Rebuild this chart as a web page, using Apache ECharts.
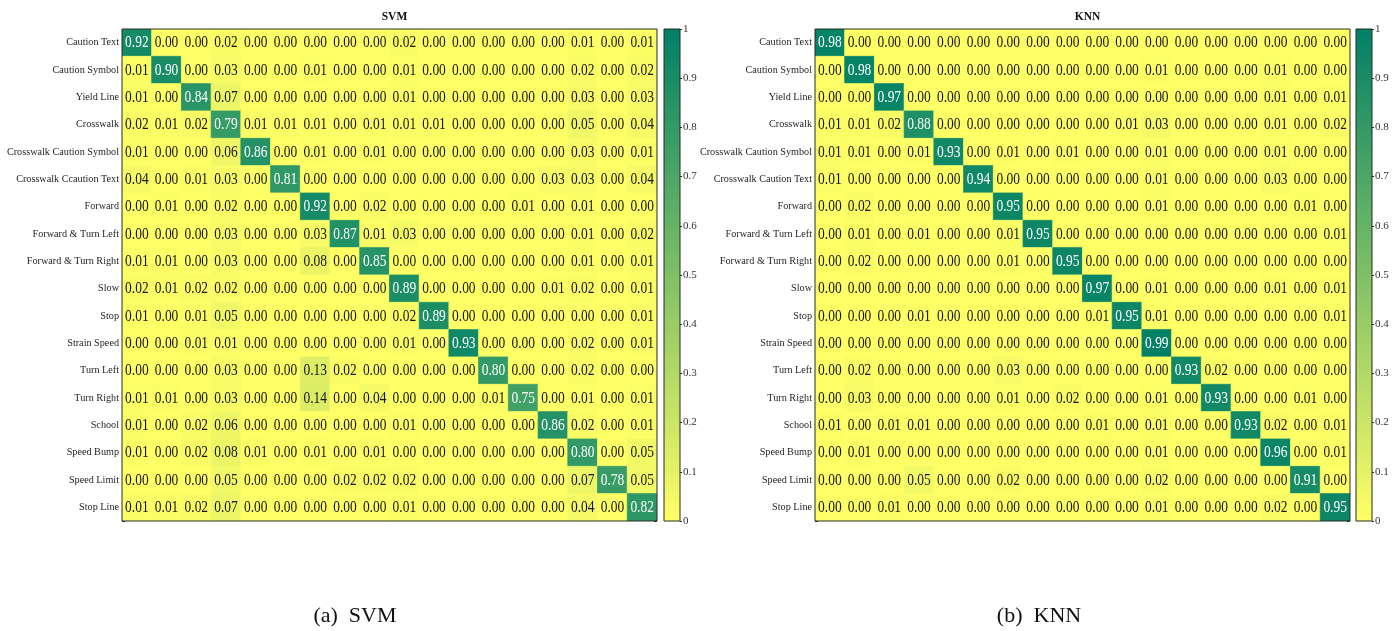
<!DOCTYPE html>
<html>
<head>
<meta charset="utf-8">
<script src="https://cdn.jsdelivr.net/npm/echarts@6/dist/echarts.min.js"></script>
<style>
  html, body { margin: 0; padding: 0; background: #fff; }
  #chart { width: 1399px; height: 631px; }
</style>
</head>
<body>
<div id="chart"></div>
<script>
// Class names (row order, top to bottom; columns follow the same order)
const svmClasses = [
  'Caution Text', 'Caution Symbol', 'Yield Line', 'Crosswalk',
  'Crosswalk Caution Symbol', 'Crosswalk Ccaution Text', 'Forward',
  'Forward & Turn Left', 'Forward & Turn Right', 'Slow', 'Stop',
  'Strain Speed', 'Turn Left', 'Turn Right', 'School', 'Speed Bump',
  'Speed Limit', 'Stop Line'
];
const knnClasses = [
  'Caution Text', 'Caution Symbol', 'Yield Line', 'Crosswalk',
  'Crosswalk Caution Symbol', 'Crosswalk Caution Text', 'Forward',
  'Forward & Turn Left', 'Forward & Turn Right', 'Slow', 'Stop',
  'Strain Speed', 'Turn Left', 'Turn Right', 'School', 'Speed Bump',
  'Speed Limit', 'Stop Line'
];

// Normalized confusion matrix, SVM classifier (rows = true class)
const svmMatrix = [
  [0.92,0.00,0.00,0.02,0.00,0.00,0.00,0.00,0.00,0.02,0.00,0.00,0.00,0.00,0.00,0.01,0.00,0.01],
  [0.01,0.90,0.00,0.03,0.00,0.00,0.01,0.00,0.00,0.01,0.00,0.00,0.00,0.00,0.00,0.02,0.00,0.02],
  [0.01,0.00,0.84,0.07,0.00,0.00,0.00,0.00,0.00,0.01,0.00,0.00,0.00,0.00,0.00,0.03,0.00,0.03],
  [0.02,0.01,0.02,0.79,0.01,0.01,0.01,0.00,0.01,0.01,0.01,0.00,0.00,0.00,0.00,0.05,0.00,0.04],
  [0.01,0.00,0.00,0.06,0.86,0.00,0.01,0.00,0.01,0.00,0.00,0.00,0.00,0.00,0.00,0.03,0.00,0.01],
  [0.04,0.00,0.01,0.03,0.00,0.81,0.00,0.00,0.00,0.00,0.00,0.00,0.00,0.00,0.03,0.03,0.00,0.04],
  [0.00,0.01,0.00,0.02,0.00,0.00,0.92,0.00,0.02,0.00,0.00,0.00,0.00,0.01,0.00,0.01,0.00,0.00],
  [0.00,0.00,0.00,0.03,0.00,0.00,0.03,0.87,0.01,0.03,0.00,0.00,0.00,0.00,0.00,0.01,0.00,0.02],
  [0.01,0.01,0.00,0.03,0.00,0.00,0.08,0.00,0.85,0.00,0.00,0.00,0.00,0.00,0.00,0.01,0.00,0.01],
  [0.02,0.01,0.02,0.02,0.00,0.00,0.00,0.00,0.00,0.89,0.00,0.00,0.00,0.00,0.01,0.02,0.00,0.01],
  [0.01,0.00,0.01,0.05,0.00,0.00,0.00,0.00,0.00,0.02,0.89,0.00,0.00,0.00,0.00,0.00,0.00,0.01],
  [0.00,0.00,0.01,0.01,0.00,0.00,0.00,0.00,0.00,0.01,0.00,0.93,0.00,0.00,0.00,0.02,0.00,0.01],
  [0.00,0.00,0.00,0.03,0.00,0.00,0.13,0.02,0.00,0.00,0.00,0.00,0.80,0.00,0.00,0.02,0.00,0.00],
  [0.01,0.01,0.00,0.03,0.00,0.00,0.14,0.00,0.04,0.00,0.00,0.00,0.01,0.75,0.00,0.01,0.00,0.01],
  [0.01,0.00,0.02,0.06,0.00,0.00,0.00,0.00,0.00,0.01,0.00,0.00,0.00,0.00,0.86,0.02,0.00,0.01],
  [0.01,0.00,0.02,0.08,0.01,0.00,0.01,0.00,0.01,0.00,0.00,0.00,0.00,0.00,0.00,0.80,0.00,0.05],
  [0.00,0.00,0.00,0.05,0.00,0.00,0.00,0.02,0.02,0.02,0.00,0.00,0.00,0.00,0.00,0.07,0.78,0.05],
  [0.01,0.01,0.02,0.07,0.00,0.00,0.00,0.00,0.00,0.01,0.00,0.00,0.00,0.00,0.00,0.04,0.00,0.82]
];

// Normalized confusion matrix, KNN classifier (rows = true class)
const knnMatrix = [
  [0.98,0.00,0.00,0.00,0.00,0.00,0.00,0.00,0.00,0.00,0.00,0.00,0.00,0.00,0.00,0.00,0.00,0.00],
  [0.00,0.98,0.00,0.00,0.00,0.00,0.00,0.00,0.00,0.00,0.00,0.01,0.00,0.00,0.00,0.01,0.00,0.00],
  [0.00,0.00,0.97,0.00,0.00,0.00,0.00,0.00,0.00,0.00,0.00,0.00,0.00,0.00,0.00,0.01,0.00,0.01],
  [0.01,0.01,0.02,0.88,0.00,0.00,0.00,0.00,0.00,0.00,0.01,0.03,0.00,0.00,0.00,0.01,0.00,0.02],
  [0.01,0.01,0.00,0.01,0.93,0.00,0.01,0.00,0.01,0.00,0.00,0.01,0.00,0.00,0.00,0.01,0.00,0.00],
  [0.01,0.00,0.00,0.00,0.00,0.94,0.00,0.00,0.00,0.00,0.00,0.01,0.00,0.00,0.00,0.03,0.00,0.00],
  [0.00,0.02,0.00,0.00,0.00,0.00,0.95,0.00,0.00,0.00,0.00,0.01,0.00,0.00,0.00,0.00,0.01,0.00],
  [0.00,0.01,0.00,0.01,0.00,0.00,0.01,0.95,0.00,0.00,0.00,0.00,0.00,0.00,0.00,0.00,0.00,0.01],
  [0.00,0.02,0.00,0.00,0.00,0.00,0.01,0.00,0.95,0.00,0.00,0.00,0.00,0.00,0.00,0.00,0.00,0.00],
  [0.00,0.00,0.00,0.00,0.00,0.00,0.00,0.00,0.00,0.97,0.00,0.01,0.00,0.00,0.00,0.01,0.00,0.01],
  [0.00,0.00,0.00,0.01,0.00,0.00,0.00,0.00,0.00,0.01,0.95,0.01,0.00,0.00,0.00,0.00,0.00,0.01],
  [0.00,0.00,0.00,0.00,0.00,0.00,0.00,0.00,0.00,0.00,0.00,0.99,0.00,0.00,0.00,0.00,0.00,0.00],
  [0.00,0.02,0.00,0.00,0.00,0.00,0.03,0.00,0.00,0.00,0.00,0.00,0.93,0.02,0.00,0.00,0.00,0.00],
  [0.00,0.03,0.00,0.00,0.00,0.00,0.01,0.00,0.02,0.00,0.00,0.01,0.00,0.93,0.00,0.00,0.01,0.00],
  [0.01,0.00,0.01,0.01,0.00,0.00,0.00,0.00,0.00,0.01,0.00,0.01,0.00,0.00,0.93,0.02,0.00,0.01],
  [0.00,0.01,0.00,0.00,0.00,0.00,0.00,0.00,0.00,0.00,0.00,0.01,0.00,0.00,0.00,0.96,0.00,0.01],
  [0.00,0.00,0.00,0.05,0.00,0.00,0.02,0.00,0.00,0.00,0.00,0.02,0.00,0.00,0.00,0.00,0.91,0.00],
  [0.00,0.00,0.01,0.00,0.00,0.00,0.00,0.00,0.00,0.00,0.00,0.01,0.00,0.00,0.00,0.02,0.00,0.95]
];

const panelTitles = ['SVM', 'KNN'];
const panelCaptions = ['(a)  SVM', '(b)  KNN'];
const colorbarTicks = [0, 0.1, 0.2, 0.3, 0.4, 0.5, 0.6, 0.7, 0.8, 0.9, 1];

// summer colormap, reversed: yellow for 0, deep green for 1
const LOW = '#ffff66';
const HIGH = '#008066';
const FONT = '"Liberation Serif", "Times New Roman", serif';
const EDGE = '#2b2b22';

// panel geometry
const panels = [
  { left: 122, top: 29, width: 535, height: 492, barLeft: 664, captionX: 350 },
  { left: 815, top: 29, width: 535, height: 492, barLeft: 1356, captionX: 1034 }
];
const BAR_W = 16;

function toCells(matrix) {
  const out = [];
  matrix.forEach((row, r) => row.forEach((v, c) => out.push([c, r, v])));
  return out;
}

function renderCell(params, api) {
  const v = api.value(2);
  const c = api.coord([api.value(0), api.value(1)]);
  const s = api.size([1, 1]);
  const color = api.visual('color');
  return {
    type: 'group',
    children: [
      {
        type: 'rect',
        shape: { x: c[0] - s[0] / 2, y: c[1] - s[1] / 2, width: s[0], height: s[1] },
        // thin stroke in the fill colour closes antialiasing seams between cells
        style: { fill: color, stroke: color, lineWidth: 0.8 }
      },
      {
        type: 'text',
        x: c[0], y: c[1] + 0.5,
        scaleX: 0.84,
        z2: 10,
        style: {
          text: v.toFixed(2),
          fill: v > 0.5 ? '#ffffff' : '#161616',
          font: '16px ' + FONT,
          align: 'center',
          verticalAlign: 'middle'
        }
      }
    ]
  };
}

const chart = echarts.init(document.getElementById('chart'), null, { renderer: 'canvas' });

const grid = [], xAxis = [], yAxis = [], series = [], visualMap = [], title = [], graphic = [];
const classLists = [svmClasses, knnClasses];
const matrices = [svmMatrix, knnMatrix];

panels.forEach((p, i) => {
  // matrix grid
  grid.push({ left: p.left, top: p.top, width: p.width, height: p.height,
              outerBoundsMode: 'none', containLabel: false,
              show: true, borderColor: EDGE, borderWidth: 1, backgroundColor: 'transparent', z: 5 });
  // colorbar grid
  grid.push({ left: p.barLeft, top: p.top, width: BAR_W, height: p.height,
              outerBoundsMode: 'none', containLabel: false,
              show: true, borderColor: EDGE, borderWidth: 1, backgroundColor: 'transparent', z: 5 });

  const gm = grid.length - 2, gc = grid.length - 1;
  const cls = classLists[i];

  xAxis.push({ type: 'category', gridIndex: gm, data: cls.map((_, k) => k),
               axisLabel: { show: false }, axisTick: { show: false },
               axisLine: { show: false }, splitLine: { show: false } });
  xAxis.push({ type: 'category', gridIndex: gc, data: [''],
               axisLabel: { show: false }, axisTick: { show: false },
               axisLine: { show: false } });

  const yLeft = yAxis.length;
  yAxis.push({ type: 'category', gridIndex: gm, data: cls, inverse: true, position: 'left',
               axisLine: { show: false },
               axisTick: { show: true, inside: true, length: 3, lineStyle: { color: EDGE } },
               axisLabel: { fontFamily: FONT, fontSize: 10.2, color: '#1e1e1e', margin: 3 },
               splitLine: { show: false } });
  yAxis.push({ type: 'category', gridIndex: gm, data: cls, inverse: true, position: 'right',
               axisLine: { show: false },
               axisTick: { show: true, inside: true, length: 3, lineStyle: { color: EDGE } },
               axisLabel: { show: false }, splitLine: { show: false } });
  yAxis.push({ type: 'value', gridIndex: gc, min: 0, max: 1, interval: 0.1, position: 'right',
               axisLine: { show: false },
               axisTick: { show: true, length: 2, lineStyle: { color: EDGE } },
               axisLabel: { fontFamily: FONT, fontSize: 11, color: '#333', margin: 3,
                            customValues: colorbarTicks,
                            formatter: v => String(Math.round(v * 10) / 10) },
               splitLine: { show: false } });

  series.push({
    type: 'custom',
    name: panelTitles[i],
    xAxisIndex: xAxis.length - 2,
    yAxisIndex: yLeft,
    data: toCells(matrices[i]),
    encode: { x: 0, y: 1 },
    renderItem: renderCell,
    clip: true,
    z: 2
  });

  visualMap.push({ type: 'continuous', show: false, min: 0, max: 1, dimension: 2,
                   seriesIndex: i, inRange: { color: [LOW, HIGH] } });

  // colorbar gradient (top = 1, bottom = 0)
  graphic.push({
    type: 'rect', z: 1,
    shape: { x: p.barLeft, y: p.top, width: BAR_W, height: p.height },
    style: { fill: new echarts.graphic.LinearGradient(0, 0, 0, 1, [
      { offset: 0, color: HIGH }, { offset: 1, color: LOW }
    ]) }
  });

  const cx = p.left + p.width / 2;
  title.push({ text: panelTitles[i], left: cx, top: 6, textAlign: 'center',
               textStyle: { fontFamily: FONT, fontWeight: 'bold', fontSize: 11.5, color: '#111' } });
  title.push({ text: panelCaptions[i], left: p.captionX, top: 600, textAlign: 'center',
               textStyle: { fontFamily: FONT, fontWeight: 'normal', fontSize: 22, color: '#111' } });
});

chart.setOption({
  animation: false,
  backgroundColor: '#ffffff',
  title, grid, xAxis, yAxis, series, visualMap, graphic
});
</script>
</body>
</html>
